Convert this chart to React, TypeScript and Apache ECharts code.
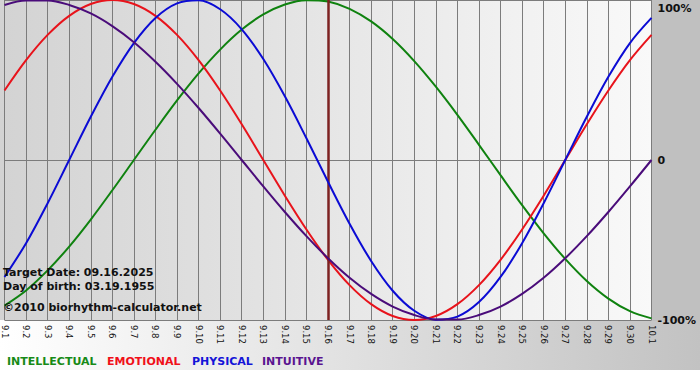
import React, { useEffect, useRef } from "react";
import * as echarts from "echarts";

const days = ["9.1","9.2","9.3","9.4","9.5","9.6","9.7","9.8","9.9","9.10","9.11","9.12","9.13","9.14","9.15","9.16","9.17","9.18","9.19","9.20","9.21","9.22","9.23","9.24","9.25","9.26","9.27","9.28","9.29","9.30","10.1"];

const intellectual = [-91.0,-81.5,-69.0,-54.1,-37.2,-18.9,0,18.9,37.2,54.1,69.0,81.5,91.0,97.2,99.9,99.0,94.5,86.6,75.6,61.8,45.8,28.2,9.5,-9.5,-28.2,-45.8,-61.8,-75.6,-86.6,-94.5,-99.0];
const emotional = [43.4,62.4,78.2,90.1,97.5,100,97.5,90.1,78.2,62.4,43.4,22.3,0,-22.3,-43.4,-62.4,-78.2,-90.1,-97.5,-100,-97.5,-90.1,-78.2,-62.4,-43.4,-22.3,0,22.3,43.4,62.4,78.2];
const physical = [-73.1,-52.0,-27.0,0,27.0,52.0,73.1,88.8,97.9,99.8,94.2,81.7,63.1,39.8,13.6,-13.6,-39.8,-63.1,-81.7,-94.2,-99.8,-97.9,-88.8,-73.1,-52.0,-27.0,0,27.0,52.0,73.1,88.8];
const intuitive = [96.9,99.7,99.7,96.9,91.6,83.7,73.6,61.4,47.6,32.5,16.5,0,-16.5,-32.5,-47.6,-61.4,-73.6,-83.7,-91.6,-96.9,-99.7,-99.7,-96.9,-91.6,-83.7,-73.6,-61.4,-47.6,-32.5,-16.5,0];

const targetDay = "9.16";
const infoLines = ["Target Date: 09.16.2025", "Day of birth: 03.19.1955", "\u00A92010 biorhythm-calculator.net"];
const legendNames = ["INTELLECTUAL", "EMOTIONAL", "PHYSICAL", "INTUITIVE"];

const lineColors = ["#0f820f", "#e8131b", "#0b0bd4", "#4a0c7a"];
const legendColors = ["#178a17", "#f0101a", "#1414d8", "#5a1490"];

export default function App() {
  const ref = useRef<HTMLDivElement>(null);
  useEffect(() => {
    if (!ref.current) return;
    const chart = echarts.init(ref.current, null, { renderer: "svg" });
    const font = "DejaVu Sans";
    const seriesData = [intellectual, emotional, physical, intuitive];
    const legendX = [7, 107, 192, 262];
    const option: any = {
      animation: false,
      backgroundColor: "#ffffff",
      grid: { left: 0.5, top: 0, width: 651, height: 320, containLabel: false },
      xAxis: {
        type: "category",
        data: days,
        boundaryGap: false,
        axisLine: { show: true, lineStyle: { color: "#7c7c7c", width: 1 } },
        axisTick: { show: false },
        axisLabel: { interval: 0, rotate: -90, margin: 5, fontSize: 8.5, fontFamily: font, color: "#111" },
        splitLine: { show: true, interval: 0, lineStyle: { color: "#7c7c7c", width: 1 } },
      },
      yAxis: {
        type: "value",
        position: "right",
        min: -100,
        max: 100,
        interval: 100,
        axisLine: { show: false },
        axisTick: { show: false },
        axisLabel: {
          margin: 6,
          fontSize: 11,
          fontWeight: "bold",
          fontFamily: font,
          color: "#111",
          padding: [3, 0, 0, 0],
          verticalAlignMaxLabel: "top",
          formatter: (v: number) => (v === 0 ? "0" : v + "%"),
        },
        splitLine: { show: true, lineStyle: { color: "#7c7c7c", width: 1 } },
      },
      graphic: [
        {
          type: "rect", z: -100, silent: true,
          shape: { x: 0, y: 320, width: 700, height: 50 },
          style: { fill: new echarts.graphic.LinearGradient(0, 0, 1, 0, [{ offset: 0, color: "#ffffff" }, { offset: 1, color: "#c2c2c2" }]) },
        },
        {
          type: "rect", z: -100, silent: true,
          shape: { x: 651, y: 0, width: 49, height: 321 },
          style: { fill: "#c0c0c0" },
        },
        {
          type: "rect", z: -100, silent: true,
          shape: { x: 0, y: 0, width: 651.5, height: 320 },
          style: { fill: new echarts.graphic.LinearGradient(0, 0, 1, 0, [{ offset: 0, color: "#d3d3d3" }, { offset: 1, color: "#f9f9f9" }]) },
        },
        ...infoLines.map((t, i) => ({
          type: "text", z: 100, silent: true,
          x: 3, y: [272, 286, 307][i],
          style: { text: t, fill: "#111", font: `bold 11px '${font}'`, textVerticalAlign: "middle" },
        })),
        ...legendNames.map((t, i) => ({
          type: "text", z: 100, silent: true,
          x: legendX[i], y: 361,
          style: { text: t, fill: legendColors[i], font: `bold 11px '${font}'`, textVerticalAlign: "middle" },
        })),
      ],
      series: legendNames.map((name, i) => ({
        name,
        type: "line",
        data: seriesData[i],
        smooth: 0.34,
        symbol: "none",
        lineStyle: { color: lineColors[i], width: 2 },
        z: 3 + i,
        markLine: i === 0 ? {
          silent: true,
          symbol: "none",
          label: { show: false },
          lineStyle: { color: "#7d2222", width: 2.5, type: "solid" },
          data: [{ xAxis: targetDay }],
        } : undefined,
      })),
    };
    chart.setOption(option);
    return () => chart.dispose();
  }, []);
  return <div ref={ref} style={{ width: 700, height: 380, position: "absolute", left: 0, top: 0 }} />;
}
